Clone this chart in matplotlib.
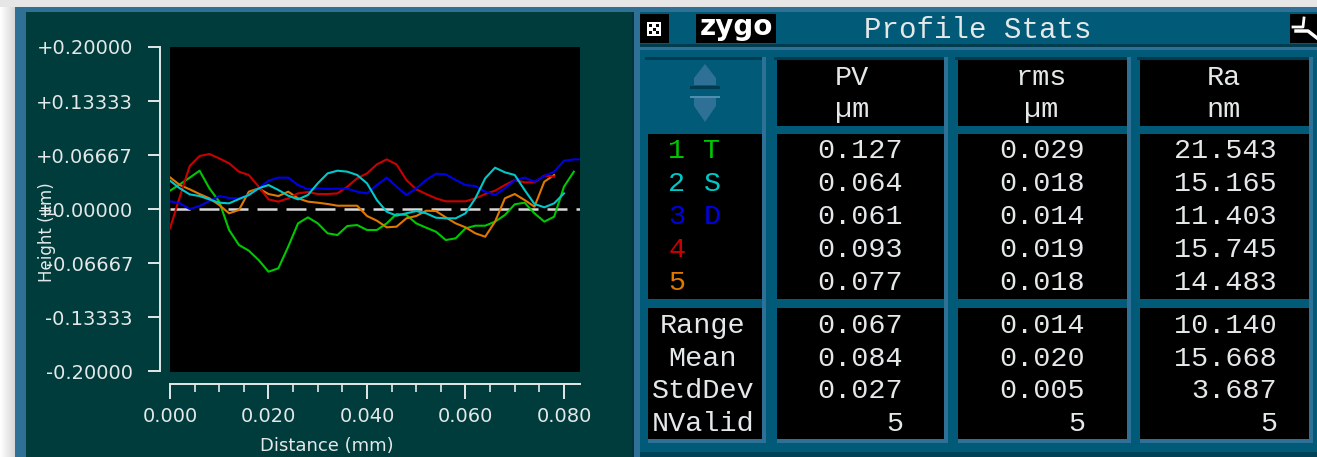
import numpy as np
import matplotlib
matplotlib.use("Agg")
import matplotlib.pyplot as plt
from matplotlib.patches import Rectangle, Polygon

# profile traces, height in um, one value every 0.002 mm
distance = np.arange(43) * 0.002
trace1 = [.0226, .0305, .0387, .0473, .0255, .0091, -.0259, -.0444, -.0514, -.0630, -.0774,
          -.0732, -.0465, -.0177, -.0103, -.0177, -.0300, -.0321, -.0210, -.0198, -.0259,
          -.0259, -.0177, -.0062, -.0074, -.0177, -.0230, -.0280, -.0383, -.0362, -.0239,
          -.0206, -.0206, -.0156, -.0074, .0058, .0078, -.0053, -.0156, -.0095, .0276, .0461]
trace2 = [.0350, .0255, .0181, .0160, .0119, .0078, .0070, .0123, .0173, .0255, .0296,
          .0235, .0165, .0119, .0173, .0317, .0440, .0473, .0461, .0420, .0317,
          .0111, -.0033, -.0082, -.0053, -.0025, -.0053, -.0107, -.0115, -.0115, -.0053,
          .0132, .0379, .0510, .0453, .0420, .0235, .0062, .0021, .0070, .0193]
trace3 = [.0095, .0070, .0000, .0037, .0099, .0160, .0136, .0132, .0173, .0255, .0350,
          .0387, .0387, .0296, .0243, .0255, .0247, .0251, .0251, .0214, .0193,
          .0296, .0387, .0276, .0173, .0255, .0358, .0436, .0428, .0358, .0296,
          .0284, .0214, .0173, .0255, .0358, .0387, .0337, .0407, .0461, .0597, .0613, .0613]
trace4 = [-.0239, .0152, .0531, .0654, .0679, .0625, .0564, .0461, .0420, .0276, .0119,
          .0091, .0132, .0193, .0210, .0185, .0185, .0193, .0276, .0379, .0440,
          .0551, .0613, .0551, .0358, .0243, .0185, .0132, .0095, .0095, .0095,
          .0132, .0185, .0226, .0296, .0358, .0329, .0329, .0412, .0400]
trace5 = [.0391, .0296, .0243, .0185, .0132, .0049, -.0053, -.0012, .0214, .0255, .0185,
          .0160, .0214, .0132, .0091, .0078, .0062, .0041, .0041, .0041, -.0086,
          -.0144, -.0226, -.0218, -.0115, -.0086, -.0021, -.0025, -.0103, -.0177, -.0226,
          -.0300, -.0342, -.0156, .0132, .0185, .0111, .0029, .0337, .0420]

ytick_values = [0.2, 0.13333, 0.06667, 0.0, -0.06667, -0.13333, -0.2]
ytick_labels = ["+0.20000", "+0.13333", "+0.06667", "+0.00000", "-0.06667", "-0.13333", "-0.20000"]
xtick_values = [0.0, 0.02, 0.04, 0.06, 0.08]
xtick_labels = ["0.000", "0.020", "0.040", "0.060", "0.080"]

# table text
columns = ["PV", "rms", "Ra"]
units = ["µm", "µm", "nm"]
row_ids = ["1", "2", "3", "4", "5"]
row_letters = ["T", "S", "D", "", ""]
pv = ["0.127", "0.064", "0.061", "0.093", "0.077"]
rms = ["0.029", "0.018", "0.014", "0.019", "0.018"]
ra = ["21.543", "15.165", "11.403", "15.745", "14.483"]
stat_names = ["Range", "Mean", "StdDev", "NValid"]
stat_pv = ["0.067", "0.084", "0.027", "5"]
stat_rms = ["0.014", "0.020", "0.005", "5"]
stat_ra = ["10.140", "15.668", "3.687", "5"]

GREEN = "#00c800"
CYAN = "#00c8c8"
BLUE = "#0000e6"
RED = "#c80000"
ORANGE = "#e07800"
PALE = "#e4e8e8"
TEAL = "#003c3c"
STEEL = "#005a78"
EDGE = "#2f7096"
W, H = 1317, 457
MONO = "Liberation Mono"

fig = plt.figure(figsize=(W / 100, H / 100), dpi=100, facecolor="#e6e6e6")

# background layer works in pixels of the picture
bg = fig.add_axes([0, 0, 1, 1])
bg.axis("off")
grad = np.linspace(1.0, 0.84, 32).reshape(1, -1)
bg.imshow(grad, extent=(0, 15, H, 7), cmap="gray", vmin=0, vmax=1, aspect="auto")
bg.set_xlim(0, W)
bg.set_ylim(H, 0)


def box(x0, y0, x1, y1, color, ax=bg, z=1):
    ax.add_patch(Rectangle((x0, y0), x1 - x0, y1 - y0, facecolor=color, edgecolor="none", zorder=z))


box(15, 7, W, H, EDGE)
box(26, 12, 632, H, TEAL)
box(632, 12, 634, H, "#00323c")
box(640, 12, W, H, STEEL)
box(634, 12, 640, H, EDGE)
box(640, 44, W, 47, "#003c50", z=2)
box(640, 47, W, 50, EDGE, z=2)
box(640, 452, W, H, "#004258", z=2)

# title strip
box(640, 14, 669, 43, "black", z=3)
box(696, 14, 776, 43, "black", z=3)
box(1290, 14, W, 43, "black", z=3)
box(647, 22, 661, 36, "white", z=4)
for dx, dy in [(649, 24), (656, 24), (652.5, 27.5), (649, 31), (656, 31)]:
    box(dx, dy, dx + 3, dy + 3, "black", z=5)
bg.text(736, 27, "zygo", color="white", fontsize=20, fontweight="bold", family="DejaVu Sans",
        ha="center", va="center", zorder=4)
bg.plot([1293, 1303, 1304], [27, 27, 18], color="white", lw=2, zorder=4)
bg.plot([1296, 1308, 1317], [31, 31, 38], color="white", lw=2.5, zorder=4)
bg.text(978, 30, "Profile Stats", color=PALE, fontsize=21, family=MONO, ha="center", va="center", zorder=4)

# table cells
col_left = [777, 958, 1140]
col_right = [944, 1127, 1309]
for x0, x1 in zip(col_left, col_right):
    box(x0, 57, x1 + 4, 443, EDGE, z=2)
    box(x0 - 3, 57, x1, 60, "#003c50", z=3)
    box(x0, 60, x1, 126, "black", z=3)
    box(x0, 126, x1, 134, STEEL, z=3)
    box(x0, 134, x1, 299, "black", z=3)
    box(x0, 299, x1, 308, STEEL, z=3)
    box(x0, 308, x1, 439, "black", z=3)
box(648, 57, 766, 443, EDGE, z=2)
box(645, 57, 762, 60, "#003c50", z=3)
box(648, 60, 762, 134, STEEL, z=3)
box(648, 134, 762, 299, "black", z=3)
box(648, 299, 762, 308, STEEL, z=3)
box(648, 308, 762, 439, "black", z=3)

# sort arrows in the header cell
bg.add_patch(Polygon([[705, 64], [716, 78], [716, 85], [694, 85], [694, 78]], facecolor="#2f7096", edgecolor="none", zorder=4))
bg.add_patch(Polygon([[705, 122], [716, 106], [716, 98], [694, 98], [694, 106]], facecolor="#2f7096", edgecolor="none", zorder=4))
box(690, 86, 720, 89, "#003c50", z=5)
box(690, 96, 720, 98, "#4f8fae", z=5)

row_y = [151, 184, 217, 250, 283]
stat_y = [326, 359, 391, 424]
col_center = [852, 1041, 1224]
col_end = [903, 1085, 1277]
row_colors = [GREEN, CYAN, BLUE, RED, ORANGE]


def cell(x, y, s, color=PALE, ha="center"):
    bg.text(x, y, s, color=color, fontsize=20.5, family=MONO, ha=ha, va="center", zorder=6)


for i in range(3):
    cell(col_center[i], 78, columns[i])
    cell(col_center[i], 110, units[i])
for i in range(5):
    cell(677, row_y[i], row_ids[i], row_colors[i])
    cell(712, row_y[i], row_letters[i], row_colors[i])
    cell(col_end[0], row_y[i], pv[i], ha="right")
    cell(col_end[1], row_y[i], rms[i], ha="right")
    cell(col_end[2], row_y[i], ra[i], ha="right")
for i in range(4):
    cell(703, stat_y[i], stat_names[i])
    cell(col_end[0], stat_y[i], stat_pv[i], ha="right")
    cell(col_end[1], stat_y[i], stat_rms[i], ha="right")
    cell(col_end[2], stat_y[i], stat_ra[i], ha="right")

# profile plot
ax = fig.add_axes([170 / W, 1 - 372 / H, 410 / W, 325 / H], facecolor="black")
ax.set_xlim(0, 0.08325)
ax.set_ylim(-0.2012, 0.2)
ax.plot([0, 0.08325], [0, 0], color="#d8d8d8", lw=1.8, dashes=(8, 3.6), dash_capstyle="butt", zorder=1)
ax.plot(distance[:len(trace1)], trace1, color=GREEN, lw=1.5, zorder=2)
ax.plot(distance[:len(trace5)], trace5, color=ORANGE, lw=1.5, zorder=3)
ax.plot(distance[:len(trace4)], trace4, color=RED, lw=1.5, zorder=4)
ax.plot(distance[:len(trace3)], trace3, color=BLUE, lw=1.5, zorder=5)
ax.plot(distance[:len(trace2)], trace2, color=CYAN, lw=1.5, zorder=6)

for side in ["top", "right"]:
    ax.spines[side].set_visible(False)
ax.spines["left"].set_position(("outward", 7.2))
ax.spines["bottom"].set_position(("outward", 8.6))
ax.spines["left"].set_bounds(-0.2, 0.2)
ax.spines["bottom"].set_bounds(0, 0.08325)
for side in ["left", "bottom"]:
    ax.spines[side].set_color(PALE)
    ax.spines[side].set_linewidth(1.4)

ax.set_yticks(ytick_values, ytick_labels)
ax.set_xticks(xtick_values, xtick_labels)
ax.set_xticks(np.arange(0, 0.0801, 0.005), minor=True)
ax.tick_params(axis="both", which="major", color=PALE, labelcolor=PALE, length=8.5, width=1.4, labelsize=14)
ax.tick_params(axis="x", which="major", length=10.8, pad=6)
ax.tick_params(axis="y", which="major", pad=11)
ax.tick_params(axis="x", which="minor", color=PALE, length=5.8, width=1.2)
ax.set_xlabel("Distance (mm)", color=PALE, fontsize=13)
ax.xaxis.set_label_coords(0.382, -0.2)
ax.set_ylabel("Height (µm)", color=PALE, fontsize=12)
ax.yaxis.set_label_coords(-0.278, 0.43)

fig.savefig("out.png", dpi=100, facecolor=fig.get_facecolor())
